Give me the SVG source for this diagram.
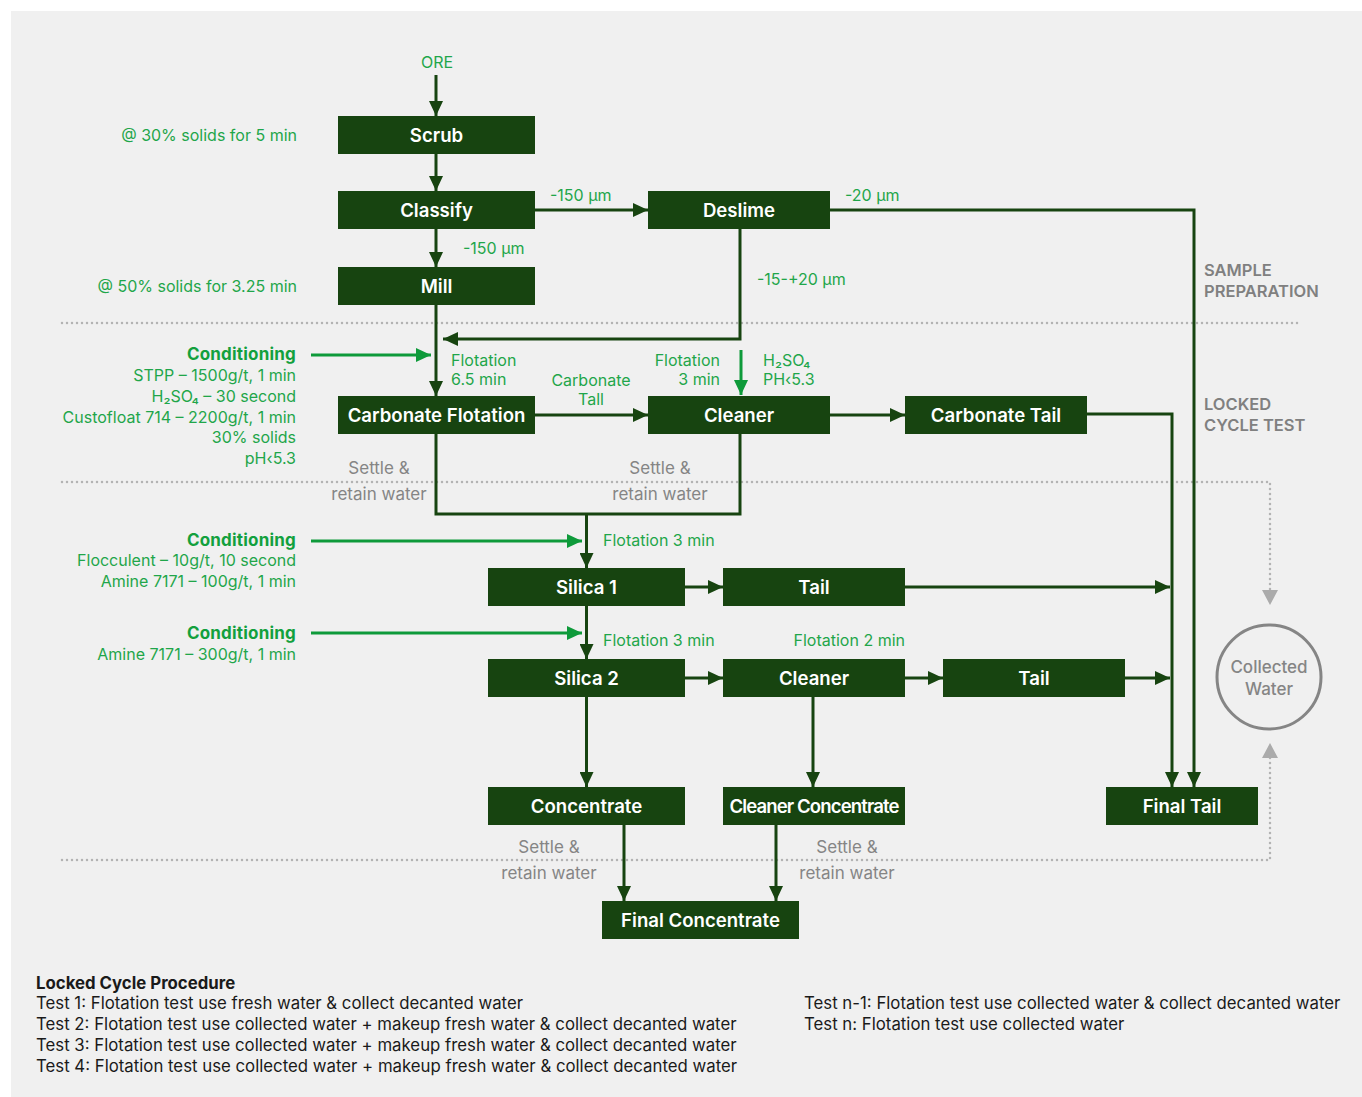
<svg xmlns="http://www.w3.org/2000/svg" width="1362" height="1097" viewBox="0 0 1362 1097">
<defs>
<style>
.bg{fill:#f0f0f0}
.box{fill:#174410}
.bt{font-family:Inter,"Liberation Sans",sans-serif;font-size:18.6px;font-weight:600;fill:#ffffff;text-anchor:middle}
.g{font-family:Inter,"Liberation Sans",sans-serif;font-size:16px;fill:#1fa64a}
.gb{font-family:Inter,"Liberation Sans",sans-serif;font-size:17px;font-weight:700;fill:#12a03d;letter-spacing:0.2px}
.gr{font-family:Inter,"Liberation Sans",sans-serif;font-size:17px;fill:#858585}
.sec{font-family:Inter,"Liberation Sans",sans-serif;font-size:16.5px;font-weight:600;fill:#808080}
.cw{font-family:Inter,"Liberation Sans",sans-serif;font-size:17px;font-weight:500;fill:#858585}
.k{font-family:Inter,"Liberation Sans",sans-serif;font-size:16.8px;fill:#1a1a1a}
.kb{font-family:Inter,"Liberation Sans",sans-serif;font-size:16.8px;font-weight:700;fill:#1a1a1a}
.r{text-anchor:end}
.m{text-anchor:middle}
.c{fill:none;stroke:#174410;stroke-width:3}
.ca{fill:none;stroke:#174410;stroke-width:3;marker-end:url(#ah)}
.cg{fill:none;stroke:#0e9a3a;stroke-width:3;marker-end:url(#ahg)}
.dot{fill:none;stroke:#b3b3b3;stroke-width:2.5;stroke-dasharray:0 5;stroke-linecap:round}
</style>
<marker id="ah" markerUnits="userSpaceOnUse" markerWidth="16" markerHeight="14" refX="15" refY="7" orient="auto"><path d="M0,0 L15,7 L0,14 z" fill="#174410"/></marker>
<marker id="ahg" markerUnits="userSpaceOnUse" markerWidth="16" markerHeight="14" refX="15" refY="7" orient="auto"><path d="M0,0 L15,7 L0,14 z" fill="#0e9a3a"/></marker>
</defs>
<rect class="bg" x="11" y="11" width="1351" height="1086"/>

<g id="dividers">
<path class="dot" d="M62,323 H1300"/>
<path class="dot" d="M62,482 H1270 V592"/>
<path class="dot" d="M62,860 H1270 V756"/>
<path d="M1262,590 L1270,605 L1278,590 z" fill="#ababab"/>
<path d="M1262,758 L1270,743 L1278,758 z" fill="#ababab"/>
</g>

<g id="connectors">
<path class="ca" d="M436,75 V116"/>
<path class="ca" d="M436,154 V191"/>
<path class="ca" d="M535,210 H648"/>
<path class="ca" d="M436,229 V267"/>
<path class="ca" d="M830,210 H1194 V787"/>
<path class="ca" d="M740,229 V339 H443"/>
<path class="ca" d="M436,305 V396"/>
<path class="ca" d="M535,415 H648"/>
<path class="ca" d="M830,415 H905"/>
<path class="ca" d="M1087,414 H1172 V787"/>
<path class="c" d="M436,434 V514 H740 V434"/>
<path class="ca" d="M586.5,514 V568"/>
<path class="ca" d="M685,587 H723"/>
<path class="ca" d="M905,587 H1170"/>
<path class="ca" d="M586.5,606 V659"/>
<path class="ca" d="M685,678 H723"/>
<path class="ca" d="M905,678 H943"/>
<path class="ca" d="M1125,678 H1170"/>
<path class="ca" d="M586.5,697 V787"/>
<path class="ca" d="M813,697 V787"/>
<path class="ca" d="M624,825 V901"/>
<path class="ca" d="M776,825 V901"/>
<path class="cg" d="M311,355 H431"/>
<path class="cg" d="M741,350 V395"/>
<path class="cg" d="M311,541 H582"/>
<path class="cg" d="M311,633 H582"/>
</g>

<g id="n-scrub"><rect class="box" x="338" y="116" width="197" height="38"/><text class="bt" x="436.5" y="141.5">Scrub</text></g>
<g id="n-classify"><rect class="box" x="338" y="191" width="197" height="38"/><text class="bt" x="436.5" y="216.5">Classify</text></g>
<g id="n-mill"><rect class="box" x="338" y="267" width="197" height="38"/><text class="bt" x="436.5" y="292.5">Mill</text></g>
<g id="n-deslime"><rect class="box" x="648" y="191" width="182" height="38"/><text class="bt" x="739" y="216.5">Deslime</text></g>
<g id="n-carbflot"><rect class="box" x="338" y="396" width="197" height="38"/><text class="bt" x="436.5" y="421.5">Carbonate Flotation</text></g>
<g id="n-cleaner1"><rect class="box" x="648" y="396" width="182" height="38"/><text class="bt" x="739" y="421.5">Cleaner</text></g>
<g id="n-carbtail"><rect class="box" x="905" y="396" width="182" height="38"/><text class="bt" x="996" y="421.5">Carbonate Tail</text></g>
<g id="n-silica1"><rect class="box" x="488" y="568" width="197" height="38"/><text class="bt" x="586.5" y="593.5">Silica 1</text></g>
<g id="n-tail1"><rect class="box" x="723" y="568" width="182" height="38"/><text class="bt" x="814" y="593.5">Tail</text></g>
<g id="n-silica2"><rect class="box" x="488" y="659" width="197" height="38"/><text class="bt" x="586.5" y="684.5">Silica 2</text></g>
<g id="n-cleaner2"><rect class="box" x="723" y="659" width="182" height="38"/><text class="bt" x="814" y="684.5">Cleaner</text></g>
<g id="n-tail2"><rect class="box" x="943" y="659" width="182" height="38"/><text class="bt" x="1034" y="684.5">Tail</text></g>
<g id="n-conc"><rect class="box" x="488" y="787" width="197" height="38"/><text class="bt" x="586.5" y="812.5">Concentrate</text></g>
<g id="n-cleanconc"><rect class="box" x="723" y="787" width="182" height="38"/><text class="bt" x="814" y="812.5" style="letter-spacing:-0.9px">Cleaner Concentrate</text></g>
<g id="n-finaltail"><rect class="box" x="1106" y="787" width="152" height="38"/><text class="bt" x="1182" y="812.5">Final Tail</text></g>
<g id="n-finalconc"><rect class="box" x="602" y="901" width="197" height="38"/><text class="bt" x="700.5" y="926.5">Final Concentrate</text></g>
<g id="n-water"><circle cx="1269" cy="677" r="52" fill="none" stroke="#858585" stroke-width="3"/><text class="cw m" x="1269" y="673">Collected</text><text class="cw m" x="1269" y="695">Water</text></g>

<g id="labels">
<text class="g m" x="437" y="68">ORE</text>
<text class="g r" x="297" y="141">@ 30% solids for 5 min</text>
<text class="g r" x="297" y="292">@ 50% solids for 3.25 min</text>
<text class="g" x="550" y="201">-150 µm</text>
<text class="g" x="463" y="254">-150 µm</text>
<text class="g" x="845" y="201">-20 µm</text>
<text class="g" x="757" y="285">-15-+20 µm</text>
<text class="sec" x="1204" y="276">SAMPLE</text>
<text class="sec" x="1204" y="297">PREPARATION</text>
<text class="sec" x="1204" y="410">LOCKED</text>
<text class="sec" x="1204" y="431">CYCLE TEST</text>

<text class="gb r" x="296" y="360">Conditioning</text>
<text class="g r" x="296" y="381">STPP – 1500g/t, 1 min</text>
<text class="g r" x="296" y="402">H₂SO₄ – 30 second</text>
<text class="g r" x="296" y="423">Custofloat 714 – 2200g/t, 1 min</text>
<text class="g r" x="296" y="443">30% solids</text>
<text class="g r" x="296" y="464">pH‹5.3</text>

<text class="g" x="451" y="366">Flotation</text>
<text class="g" x="451" y="385">6.5 min</text>
<text class="g m" x="591" y="386">Carbonate</text>
<text class="g m" x="591" y="405">Tall</text>
<text class="g r" x="720" y="366">Flotation</text>
<text class="g r" x="720" y="385">3 min</text>
<text class="g" x="763" y="366">H₂SO₄</text>
<text class="g" x="763" y="385">PH‹5.3</text>

<text class="gr m" x="379" y="474">Settle &amp;</text>
<text class="gr m" x="379" y="500">retain water</text>
<text class="gr m" x="660" y="474">Settle &amp;</text>
<text class="gr m" x="660" y="500">retain water</text>

<text class="gb r" x="296" y="546">Conditioning</text>
<text class="g r" x="296" y="566">Flocculent – 10g/t, 10 second</text>
<text class="g r" x="296" y="587">Amine 7171 – 100g/t, 1 min</text>
<text class="g" x="603" y="546">Flotation 3 min</text>

<text class="gb r" x="296" y="639">Conditioning</text>
<text class="g r" x="296" y="660">Amine 7171 – 300g/t, 1 min</text>
<text class="g" x="603" y="646">Flotation 3 min</text>
<text class="g r" x="905" y="646">Flotation 2 min</text>

<text class="gr m" x="549" y="853">Settle &amp;</text>
<text class="gr m" x="549" y="879">retain water</text>
<text class="gr m" x="847" y="853">Settle &amp;</text>
<text class="gr m" x="847" y="879">retain water</text>

<text class="kb" x="36" y="989">Locked Cycle Procedure</text>
<text class="k" x="36" y="1009">Test 1: Flotation test use fresh water &amp; collect decanted water</text>
<text class="k" x="36" y="1030">Test 2: Flotation test use collected water + makeup fresh water &amp; collect decanted water</text>
<text class="k" x="36" y="1051">Test 3: Flotation test use collected water + makeup fresh water &amp; collect decanted water</text>
<text class="k" x="36" y="1072">Test 4: Flotation test use collected water + makeup fresh water &amp; collect decanted water</text>
<text class="k" x="804" y="1009">Test n-1: Flotation test use collected water &amp; collect decanted water</text>
<text class="k" x="804" y="1030">Test n: Flotation test use collected water</text>
</g>
</svg>
